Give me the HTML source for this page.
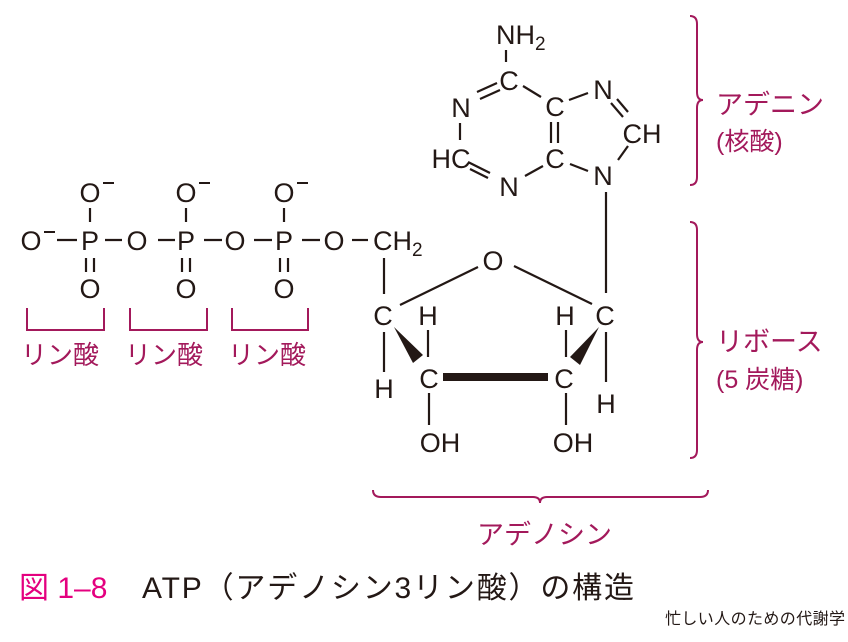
<!DOCTYPE html>
<html><head><meta charset="utf-8"><style>
html,body{margin:0;padding:0;background:#fff;}
svg{display:block;}
.t{font-family:"Liberation Sans","Noto Sans CJK JP",sans-serif;fill:#231815;font-size:27px;}
.m{font-family:"Liberation Sans","Noto Sans CJK JP",sans-serif;fill:#a3195b;font-size:25px;}
</style></head><body>
<svg width="848" height="642" viewBox="0 0 848 642" xmlns="http://www.w3.org/2000/svg">
<g stroke="#231815" stroke-width="2.2" fill="none">
<line x1="57" y1="240" x2="77" y2="240"/><line x1="105" y1="240" x2="122" y2="240"/>
<line x1="158" y1="240" x2="175" y2="240"/><line x1="204" y1="240" x2="222" y2="240"/>
<line x1="254" y1="240" x2="272" y2="240"/><line x1="302" y1="240" x2="320" y2="240"/>
<line x1="352" y1="240" x2="368" y2="240"/>
<line x1="90" y1="208" x2="90" y2="222"/><line x1="186" y1="208" x2="186" y2="222"/><line x1="284" y1="208" x2="284" y2="222"/>
<line x1="86" y1="258" x2="86" y2="272"/><line x1="94" y1="258" x2="94" y2="272"/>
<line x1="182" y1="258" x2="182" y2="272"/><line x1="190" y1="258" x2="190" y2="272"/>
<line x1="280" y1="258" x2="280" y2="272"/><line x1="288" y1="258" x2="288" y2="272"/>
<line x1="506" y1="50" x2="506" y2="62"/>
<line x1="477" y1="92" x2="497" y2="83"/><line x1="480" y1="99" x2="500" y2="90"/>
<line x1="460" y1="123" x2="460" y2="140"/>
<line x1="468" y1="162" x2="490" y2="173"/><line x1="470" y1="169" x2="488" y2="178"/>
<line x1="525" y1="176" x2="543" y2="166"/>
<line x1="523" y1="86" x2="541" y2="97"/>
<line x1="551" y1="122" x2="551" y2="143"/><line x1="558" y1="122" x2="558" y2="143"/>
<line x1="569" y1="100" x2="588" y2="93"/>
<line x1="611" y1="103" x2="623" y2="117"/><line x1="617" y1="99" x2="628" y2="112"/>
<line x1="628" y1="146" x2="618" y2="160"/>
<line x1="570" y1="164" x2="588" y2="171"/>
<line x1="606" y1="192" x2="606" y2="293"/>
<line x1="384" y1="258" x2="384" y2="294"/>
<line x1="400" y1="305" x2="478" y2="267"/>
<line x1="514" y1="266" x2="592" y2="304"/>
<line x1="428" y1="330" x2="428" y2="357"/>
<line x1="566" y1="330" x2="566" y2="357"/>
<line x1="384" y1="332" x2="384" y2="372"/>
<line x1="606" y1="332" x2="606" y2="382"/>
<line x1="429" y1="393" x2="429" y2="425"/>
<line x1="566" y1="393" x2="566" y2="425"/>
</g>
<rect x="443" y="373" width="105" height="8" fill="#231815"/>
<polygon points="394,327 423,355 413,363" fill="#231815"/>
<polygon points="599,327 580,365 570,357" fill="#231815"/>
<g class="t" text-anchor="middle">
<text x="31" y="250">O</text><text x="90" y="250">P</text><text x="137" y="250">O</text>
<text x="186" y="250">P</text><text x="235" y="250">O</text><text x="284" y="250">P</text>
<text x="334" y="250">O</text>
<text x="90" y="202">O</text><text x="186" y="202">O</text><text x="284" y="202">O</text>
<text x="90" y="298">O</text><text x="186" y="298">O</text><text x="284" y="298">O</text>
</g>
<g stroke="#231815" stroke-width="2">
<line x1="44" y1="232" x2="55" y2="232"/>
<line x1="103" y1="183" x2="114" y2="183"/><line x1="199" y1="183" x2="210" y2="183"/><line x1="297" y1="183" x2="308" y2="183"/>
</g>
<text class="t" x="373" y="250">CH<tspan font-size="19" dy="6">2</tspan></text>
<text class="t" x="496" y="44">NH<tspan font-size="19" dy="6">2</tspan></text>
<g class="t" text-anchor="middle">
<text x="509" y="90">C</text><text x="461" y="117">N</text>
<text x="451" y="168">HC</text><text x="509" y="196">N</text>
<text x="555" y="168">C</text><text x="555" y="116">C</text>
<text x="603" y="99">N</text><text x="642" y="143">CH</text><text x="603" y="185">N</text>
<text x="493" y="270">O</text>
<text x="383" y="325">C</text><text x="605" y="325">C</text>
<text x="428" y="325">H</text><text x="565" y="325">H</text>
<text x="429" y="388">C</text><text x="564" y="388">C</text>
<text x="384" y="398">H</text><text x="606" y="413">H</text>
<text x="440" y="452">OH</text><text x="573" y="452">OH</text>
</g>
<g stroke="#a3195b" stroke-width="2" fill="none">
<path d="M27 308 V330 H104 V308"/><path d="M130 308 V330 H207 V308"/><path d="M232 308 V330 H308 V308"/>
<path d="M690 16 Q697 16 697 24 V92 Q697 100 703 100 Q697 100 697 108 V177 Q697 185 690 185"/>
<path d="M690 222 Q697 222 697 230 V334 Q697 342 703 342 Q697 342 697 350 V450 Q697 458 690 458"/>
<path d="M373 490 Q373 497 381 497 H533 Q540 497 540 503 Q540 497 547 497 H700 Q708 497 708 490"/>
</g>
<g class="m">
<text x="21" y="364" font-size="26">リン酸</text><text x="125" y="364" font-size="26">リン酸</text><text x="228" y="364" font-size="26">リン酸</text>
<text x="716" y="114" font-size="27">アデニン</text>
<text x="716" y="150" font-size="25">(核酸)</text>
<text x="716" y="351" font-size="27">リボース</text>
<text x="716" y="388" font-size="25">(5 炭糖)</text>
<text x="477" y="544" font-size="27">アデノシン</text>
</g>
<text x="19" y="598" font-family="Liberation Sans,'Noto Sans CJK JP',sans-serif" font-size="30" fill="#e4007f">図 1–8</text>
<text x="142" y="598" font-family="Liberation Sans,'Noto Sans CJK JP',sans-serif" font-size="30" fill="#231815" textLength="492">ATP（アデノシン3リン酸）の構造</text>
<text x="665" y="624" font-family="Liberation Sans,'Noto Sans CJK JP',sans-serif" font-size="16" fill="#231815" textLength="180">忙しい人のための代謝学</text>
</svg>
</body></html>
